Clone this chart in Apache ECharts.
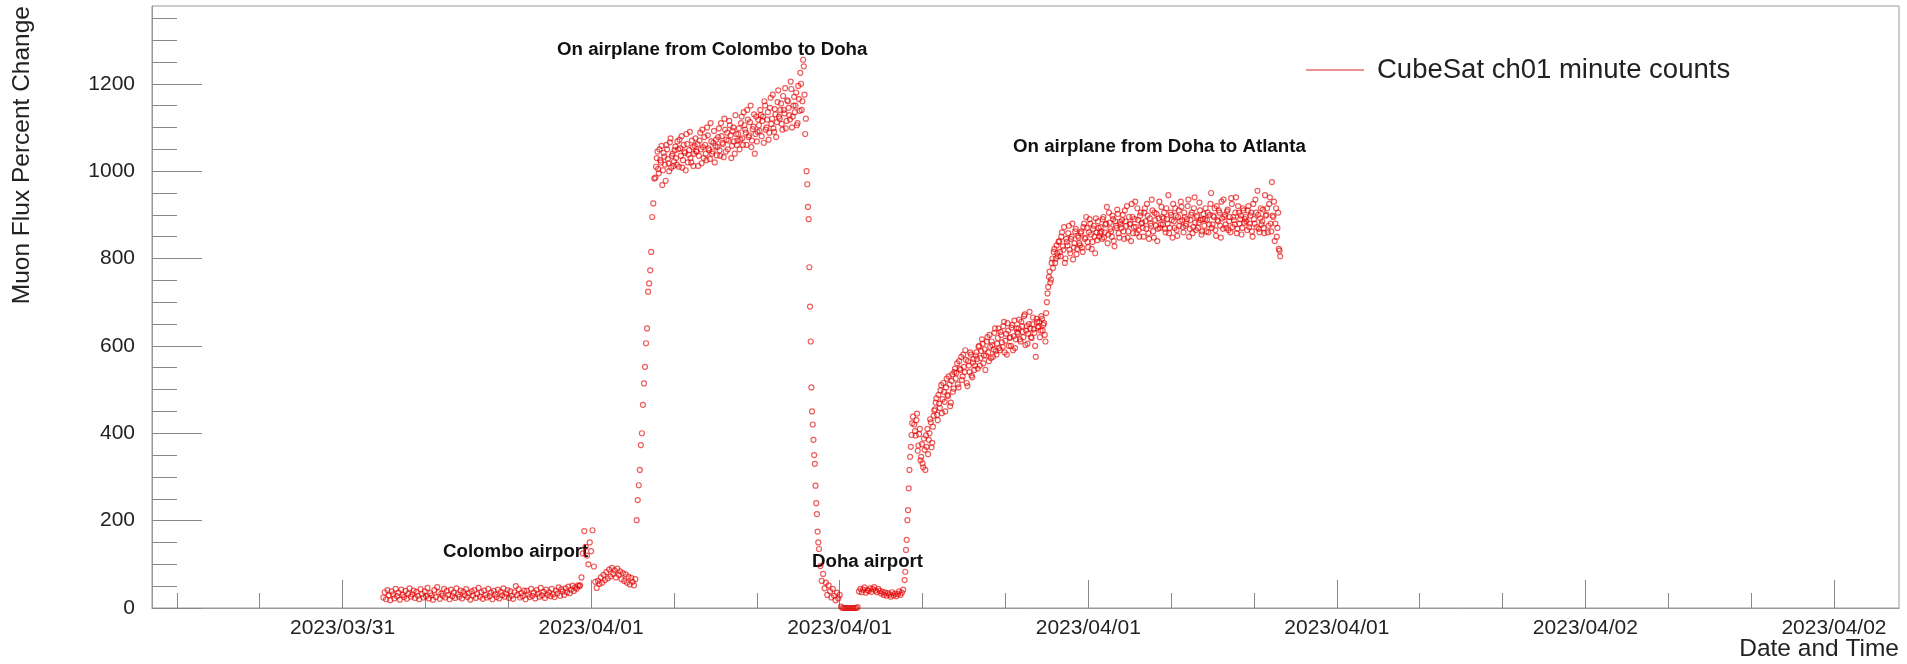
<!DOCTYPE html>
<html>
<head>
<meta charset="utf-8">
<script src="https://cdn.jsdelivr.net/npm/echarts@6/dist/echarts.min.js"></script>
<style>
html,body{margin:0;padding:0;background:#fff;}
#chart{width:1907px;height:664px;}
</style>
</head>
<body>
<div id="chart"></div>
<script>
// ---- data: muon flux percent change ----
// times are minutes after 2023/03/31 00:00
const colomboAirport = [24,36,20,41,29,18,38,31,22,44,27,35,19,42,30,25,39,21,33,45,26,31,40,23,37,28,20,43,32,24,
  38,27,46,22,34,29,19,41,25,48,36,21,33,28,44,24,39,30,20,42,27,35,23,45,31,26,40,22,37,29,
  43,25,34,19,38,28,41,23,32,46,26,36,21,40,30,24,44,27,35,20,39,31,25,42,22,37,29,45,26,33,
  41,23,38,28,21,36,50,30,43,24,34,27,40,20,39,31,25,44,28,35,22,41,33,26,46,29,37,23,42,30,
  36,27,44,31,25,40,33,47,28,43,38,30,45,36,49,34,42,51,39,47,44,52,50];
const colomboSpike = [52,70,125,176,140,120,100,150,130,178,95,60,46,62,55,70,58,76,64,82,68,88,72,92,78,86,70,90,76,84,66,80,62,77,58,72,54,69,60,52,66];
const climbColombo = [201,247,281,316,373,400,465,514,552,606,640,724,743,773,815,895,926,983];
const flightColomboDohaEven = [985,1030,1005,1050,1020,968,1042,1015,1060,1028,1000,1075,1035,1012,1048,
  1030,1068,1010,1052,1080,1025,1045,1002,1062,1038,1090,1020,1055,1040,1075,
  1045,1012,1070,1050,1095,1030,1060,1025,1082,1048,1110,1040,1065,1020,1072,
  1055,1098,1035,1080,1062,1120,1045,1088,1070,1105,1030,1092,1068,1128,1060,
  1085,1050,1110,1075,1135,1095,1060,1118,1082,1150,1070,1102,1040,1125,1090,
  1105,1140,1080,1125,1160,1095,1118,1072,1145,1108,1175,1090,1130,1112,1185,
  1120,1155,1095,1140,1190,1115,1160,1128,1205,1100,1150,1135,1180,1110,1165,
  1225,1140,1255,1175,1120];
const flightColomboDohaOdd = [1010,1045,995,1025,1058,1002,1033,978,1050,1018,1066,1008,1040,1022,1056,
  1015,1050,1072,1035,1008,1060,1042,1085,1020,1048,1030,1070,1012,1058,1045,
  1062,1035,1088,1018,1055,1078,1040,1100,1052,1028,1068,1045,1092,1058,1036,
  1078,1048,1110,1065,1032,1095,1072,1050,1115,1082,1058,1100,1040,1085,1070,
  1098,1072,1125,1060,1105,1088,1140,1078,1112,1055,1096,1130,1085,1068,1118,
  1092,1128,1115,1065,1150,1100,1135,1088,1168,1120,1098,1142,1078,1158,1125,
  1140,1108,1172,1132,1098,1162,1145,1118,1188,1125,1170,1150,1105,1195,1138,
  1200,1160,1240,1085];
const descentDoha = [1000,970,918,890,780,690,610,505,450,420,385,350,330,280,240,215,175,150];
const dohaAirport = [135,96,62,78,45,58,30,52,38,24,44,28,18,35,22,30,
  3,0,0,0,0,0,0,0,0,0,0,0,2,
  38,44,36,42,47,35,41,39,45,37,43,48,40,36,44,39,33,37,30,35,28,34,31,26,36,29,33,27,32,38,30,35,42];
const climbDoha = [64,83,133,156,201,224,274,316,346,369,396,423,438];
const flightDohaAtlantaEven = [420,395,445,372,410,346,331,388,316,369,352,400,425,378,440,
  455,480,430,468,498,446,515,472,505,488,530,462,520,495,540,
  525,560,505,548,575,530,552,590,515,565,540,580,528,570,555,
  585,548,600,572,615,560,592,578,620,565,598,610,575,630,588,
  605,640,590,625,598,655,612,580,635,618,600,648,622,595,640,
  628,660,610,645,620,672,635,605,650,640,618,665,630,575,655,
  645,620,668,635,652,610,700,735,770,752,800,815,790,830,805,
  840,805,860,820,790,845,830,875,812,850,798,835,868,822,848,
  830,862,815,880,848,870,826,890,855,838,875,812,860,885,850,
  872,845,895,860,880,835,905,868,850,890,828,875,912,858,884,
  870,900,845,885,920,862,878,840,895,872,930,858,888,850,905,
  882,850,915,868,898,845,880,935,862,905,875,840,892,870,918,
  878,905,860,890,945,870,900,848,885,915,865,895,875,930,888,
  860,895,880,920,850,888,905,872,940,865,898,882,910,855,890,
  875,915,888,860,900,950,878,895,865,920,885,905,848,892,935,
  900,870,912,885,860,925,895,878,940,868,905,890,855,915,882,
  895,865,920,880,905,850,890,935,872,900,860,915,885,870,945,
  900,860,925,880,975,895,840,915,870,822,805];
const flightDohaAtlantaOdd = [405,430,360,398,338,375,322,362,395,410,385,432,368,415,452,
  470,442,488,458,510,478,495,450,525,485,512,470,535,502,548,
  538,512,565,545,522,580,540,568,508,555,585,532,562,545,578,
  570,598,555,588,605,578,545,610,585,625,572,602,592,640,580,
  618,595,632,608,645,585,628,652,600,620,642,590,658,615,632,
  640,615,655,632,668,602,645,628,678,620,650,638,600,662,642,
  655,635,662,648,625,675,720,758,745,790,778,822,800,812,838,
  815,850,828,872,800,838,858,820,845,880,825,862,810,852,835,
  858,825,872,845,895,838,860,880,822,868,850,892,842,870,858,
  862,890,848,878,918,855,882,862,898,840,885,870,902,848,878,
  888,862,910,875,848,895,880,925,858,890,872,915,865,898,880,
  870,905,885,925,858,892,875,910,848,888,902,868,930,878,895,
  892,868,915,880,858,905,888,925,870,898,852,910,885,918,872,
  905,875,890,935,868,900,858,915,882,895,870,928,888,862,902,
  890,862,905,878,925,870,898,915,852,888,910,875,930,868,895,
  878,908,865,895,938,872,888,905,858,920,880,898,870,910,890,
  885,910,872,898,862,925,880,905,955,868,892,878,912,858,898,
  915,875,940,862,898,930,880,850,905,818];
// segment start minute and sampling step in minutes
const segStartMin = [1139, 1424, 1506, 1533, 1534, 1752, 1770, 1894, 1908, 1909];
const segStepMin  = [2, 2, 1.5, 2, 2, 1, 2, 1, 2, 2];
const segValues = [colomboAirport, colomboSpike, climbColombo, flightColomboDohaEven, flightColomboDohaOdd,
  descentDoha, dohaAirport, climbDoha, flightDohaAtlantaEven, flightDohaAtlantaOdd];

// axis ticks (hours after 2023/03/31 00:00)
const xMajorTicks = [18, 24, 30, 36, 42, 48, 54];
const xMinorTicks = [14, 16, 20, 22, 26, 28, 32, 34, 38, 40, 44, 46, 50, 52];
const yMajorTicks = [0, 200, 400, 600, 800, 1000, 1200];
const yMinorTicks = [50,100,150,250,300,350,450,500,550,650,700,750,850,900,950,1050,1100,1150,1250,1300,1350];
const xRange = [13.4, 55.57];
const yRange = [0, 1378];

const seriesName = 'CubeSat ch01 minute counts';
const annotations = ['On airplane from Colombo to Doha', 'On airplane from Doha to Atlanta', 'Colombo airport', 'Doha airport'];

const points = [];
segValues.forEach((vals, s) => {
  vals.forEach((v, i) => {
    points.push([(segStartMin[s] + i * segStepMin[s]) / 60, v]);
  });
});

function fmtDate(h) {
  const d = new Date(Date.UTC(2023, 2, 31) + h * 3600000);
  const p = n => (n < 10 ? '0' : '') + n;
  return d.getUTCFullYear() + '/' + p(d.getUTCMonth() + 1) + '/' + p(d.getUTCDate());
}

const FONT = '"Liberation Sans", Arial, Helvetica, sans-serif';
const chart = echarts.init(document.getElementById('chart'));
const tickColor = '#888';
chart.setOption({
  animation: false,
  backgroundColor: '#fff',
  grid: { left: 152, right: 8, top: 6, bottom: 56, show: true, borderColor: '#999', borderWidth: 1, backgroundColor: 'transparent' },
  xAxis: [{
    type: 'value', min: xRange[0], max: xRange[1],
    axisLine: { show: true, lineStyle: { color: '#999', width: 1 } },
    axisTick: { show: true, inside: true, length: 28, customValues: xMajorTicks, lineStyle: { color: tickColor } },
    axisLabel: { show: true, customValues: xMajorTicks, formatter: fmtDate, color: '#222', fontSize: 21, fontFamily: FONT, margin: 10 },
    splitLine: { show: false }
  }, {
    type: 'value', min: xRange[0], max: xRange[1], position: 'bottom',
    axisLine: { show: false },
    axisTick: { show: true, inside: true, length: 15, customValues: xMinorTicks, lineStyle: { color: tickColor } },
    axisLabel: { show: false },
    splitLine: { show: false }
  }],
  yAxis: [{
    type: 'value', min: yRange[0], max: yRange[1],
    axisLine: { show: true, lineStyle: { color: '#999', width: 1 } },
    axisTick: { show: true, inside: true, length: 50, customValues: yMajorTicks, lineStyle: { color: tickColor } },
    axisLabel: { show: true, customValues: yMajorTicks, formatter: v => String(v), color: '#222', fontSize: 21, fontFamily: FONT, margin: 17 },
    splitLine: { show: false }
  }, {
    type: 'value', min: yRange[0], max: yRange[1], position: 'left',
    axisLine: { show: false },
    axisTick: { show: true, inside: true, length: 25, customValues: yMinorTicks, lineStyle: { color: tickColor } },
    axisLabel: { show: false },
    splitLine: { show: false }
  }],
  legend: {
    show: true, left: 1301, top: 51, icon: 'rect', itemWidth: 58, itemHeight: 2,
    data: [{ name: seriesName, itemStyle: { color: '#e87878', borderWidth: 0 } }],
    textStyle: { fontSize: 27.5, fontFamily: FONT, color: '#222', padding: [0, 0, 0, 8] }
  },
  series: [{
    name: seriesName, type: 'scatter', xAxisIndex: 0, yAxisIndex: 0,
    data: points, symbol: 'circle', symbolSize: 5,
    itemStyle: { color: 'transparent', borderColor: 'rgba(228,0,0,0.8)', borderWidth: 1.2 },
    emphasis: { disabled: true }
  }],
  graphic: [
    { type: 'text', left: 557, top: 40, style: { text: annotations[0], font: 'bold 18.7px ' + FONT, fill: '#111' } },
    { type: 'text', left: 1013, top: 137, style: { text: annotations[1], font: 'bold 18.7px ' + FONT, fill: '#111' } },
    { type: 'text', left: 443, top: 542, style: { text: annotations[2], font: 'bold 18.7px ' + FONT, fill: '#111' } },
    { type: 'text', left: 812, top: 552, style: { text: annotations[3], font: 'bold 18.7px ' + FONT, fill: '#111' } },
    { type: 'text', x: 22, y: 6, rotation: Math.PI / 2, style: { text: 'Muon Flux Percent Change', font: '24.5px ' + FONT, fill: '#222', align: 'right', verticalAlign: 'middle' } },
    { type: 'text', x: 1899, y: 649, style: { text: 'Date and Time', font: '24.5px ' + FONT, fill: '#222', align: 'right', verticalAlign: 'middle' } }
  ]
});
</script>
</body>
</html>
